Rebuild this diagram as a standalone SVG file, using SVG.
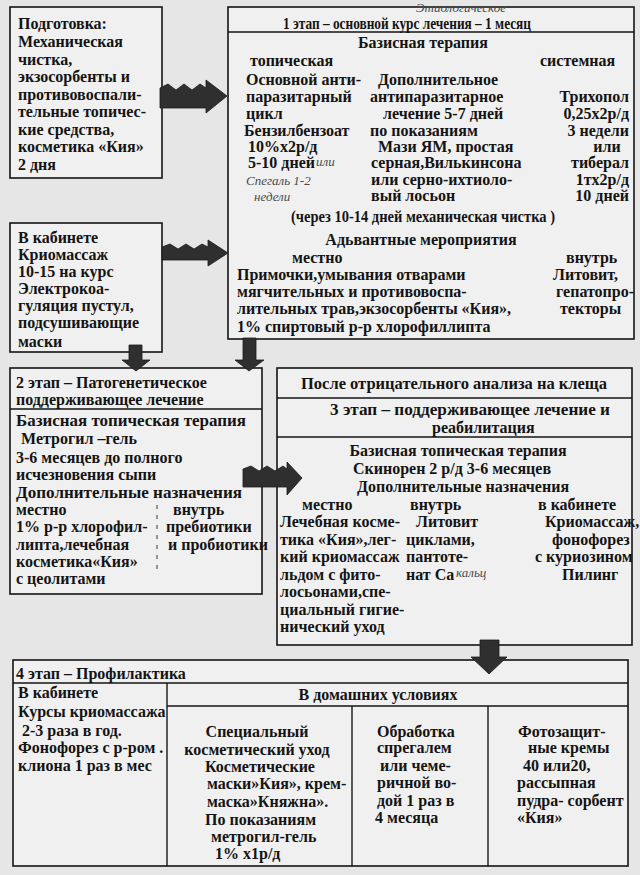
<svg xmlns="http://www.w3.org/2000/svg" width="640" height="875" viewBox="0 0 640 875">
<style>
.t{font-family:"Liberation Serif","Times New Roman",serif;font-weight:bold;font-size:16px;fill:#141414}
.m{text-anchor:middle}
.e{text-anchor:end}
.h{font-family:"Liberation Serif",serif;font-style:italic;font-size:13px;fill:#4a4a4a}
.box{fill:#f0f0f0;stroke:#151515;stroke-width:1.6}
.ln{stroke:#151515;stroke-width:1.4;fill:none}
.arr{fill:#2f2f2f;stroke:#1a1a1a;stroke-width:0.8}
</style>
<rect width="640" height="875" fill="#e6e6e6"/>

<g id="prep">
<rect class="box" x="10" y="7" width="152" height="171"/>
<text class="t" x="18" y="29">Подготовка:</text>
<text class="t" x="18" y="47">Механическая</text>
<text class="t" x="18" y="65">чистка,</text>
<text class="t" x="18" y="82">экзосорбенты и</text>
<text class="t" x="18" y="100">противовоспали-</text>
<text class="t" x="18" y="117">тельные топичес-</text>
<text class="t" x="18" y="135">кие средства,</text>
<text class="t" x="18" y="152">косметика «Кия»</text>
<text class="t" x="18" y="170">2 дня</text>
</g>

<g id="cabinet1">
<rect class="box" x="10" y="223" width="152" height="129"/>
<text class="t" x="18" y="243">В кабинете</text>
<text class="t" x="18" y="260">Криомассаж</text>
<text class="t" x="18" y="277">10-15 на курс</text>
<text class="t" x="18" y="294">Электрокоа-</text>
<text class="t" x="18" y="311">гуляция пустул,</text>
<text class="t" x="18" y="328">подсушивающие</text>
<text class="t" x="18" y="347">маски</text>
</g>

<g id="stage1">
<rect class="box" x="228" y="7" width="406" height="332"/>
<line class="ln" x1="228" y1="32" x2="634" y2="32"/>
<text class="h" x="416" y="12" font-size="10">Этиологическое</text>
<text class="t" x="283" y="29" font-size="15" textLength="248" lengthAdjust="spacingAndGlyphs">1 этап – основной курс лечения – 1 месяц</text>
<text class="t m" x="423" y="48">Базисная терапия</text>
<text class="t" x="250" y="66">топическая</text>
<text class="t" x="540" y="66">системная</text>
<text class="t" x="246" y="85">Основной анти-</text>
<text class="t" x="378" y="85">Дополнительное</text>
<text class="t" x="246" y="102">паразитарный</text>
<text class="t" x="370" y="102">антипаразитарное</text>
<text class="t e" x="629" y="102">Трихопол</text>
<text class="t" x="246" y="119">цикл</text>
<text class="t" x="383" y="119">лечение 5-7 дней</text>
<text class="t e" x="629" y="119">0,25х2р/д</text>
<text class="t" x="244" y="136">Бензилбензоат</text>
<text class="t" x="370" y="136">по показаниям</text>
<text class="t e" x="629" y="136">3 недели</text>
<text class="t" x="248" y="152">10%х2р/д</text>
<text class="t" x="378" y="152">Мази ЯМ, простая</text>
<text class="t m" x="607" y="152">или</text>
<text class="t" x="248" y="168">5-10 дней</text>
<text class="h" x="316" y="166">или</text>
<text class="t" x="371" y="168">серная,Вилькинсона</text>
<text class="t e" x="629" y="168">тиберал</text>
<text class="h" x="246" y="185" font-size="17">Спегаль 1-2</text>
<text class="t" x="371" y="185">или серно-ихтиоло-</text>
<text class="t e" x="629" y="185">1тх2р/д</text>
<text class="h" x="254" y="201" font-size="16">недели</text>
<text class="t" x="371" y="201">вый лосьон</text>
<text class="t e" x="629" y="201">10 дней</text>
<text class="t" x="291" y="222" textLength="264" lengthAdjust="spacingAndGlyphs">(через 10-14 дней механическая чистка )</text>
<text class="t m" x="421" y="245">Адьвантные мероприятия</text>
<text class="t" x="292" y="263">местно</text>
<text class="t" x="566" y="263">внутрь</text>
<text class="t" x="237" y="280">Примочки,умывания отварами</text>
<text class="t" x="553" y="280">Литовит,</text>
<text class="t" x="237" y="297">мягчительных и противовоспа-</text>
<text class="t" x="556" y="297">гепатопро-</text>
<text class="t" x="237" y="314">лительных трав,экзосорбенты «Кия»,</text>
<text class="t" x="560" y="314">текторы</text>
<text class="t" x="237" y="332">1% спиртовый р-р хлорофиллипта</text>
</g>

<g id="stage2">
<rect class="box" x="10" y="368" width="252" height="226"/>
<line class="ln" x1="10" y1="409" x2="262" y2="409"/>
<text class="t" x="16" y="388">2 этап – Патогенетическое</text>
<text class="t" x="16" y="405">поддерживающее лечение</text>
<text class="t" x="16" y="426" textLength="230" lengthAdjust="spacingAndGlyphs">Базисная топическая терапия</text>
<text class="t" x="21" y="444">Метрогил –гель</text>
<text class="t" x="16" y="463">3-6 месяцев до полного</text>
<text class="t" x="16" y="480">исчезновения сыпи</text>
<text class="t" x="16" y="498" textLength="226" lengthAdjust="spacingAndGlyphs">Дополнительные назначения</text>
<text class="t" x="16" y="515">местно</text>
<text class="t" x="173" y="515">внутрь</text>
<text class="t" x="16" y="532">1% р-р хлорофил-</text>
<text class="t" x="166" y="532">пребиотики</text>
<text class="t" x="16" y="550">липта,лечебная</text>
<text class="t" x="168" y="550">и пробиотики</text>
<text class="t" x="16" y="567">косметика«Кия»</text>
<text class="t" x="16" y="584">с цеолитами</text>
<path d="M157 505 L157 575" stroke="#555" stroke-width="1.2" stroke-dasharray="4 6" fill="none"/>
</g>

<g id="stage3">
<rect class="box" x="277" y="368" width="355" height="277"/>
<line class="ln" x1="277" y1="398" x2="632" y2="398"/>
<line class="ln" x1="277" y1="437" x2="632" y2="437"/>
<text class="t" x="301" y="389" textLength="306" lengthAdjust="spacingAndGlyphs">После отрицательного анализа на клеща</text>
<text class="t" x="330" y="415" textLength="280" lengthAdjust="spacingAndGlyphs">3 этап – поддерживающее лечение и</text>
<text class="t" x="432" y="433">реабилитация</text>
<text class="t m" x="458" y="456">Базисная топическая терапия</text>
<text class="t m" x="452" y="474">Скинорен 2 р/д 3-6 месяцев</text>
<text class="t m" x="463" y="492">Дополнительные назначения</text>
<text class="t" x="302" y="510">местно</text>
<text class="t" x="410" y="510">внутрь</text>
<text class="t" x="538" y="510">в кабинете</text>
<text class="t" x="280" y="527">Лечебная косме-</text>
<text class="t" x="416" y="527">Литовит</text>
<text class="t" x="545" y="527">Криомассаж,</text>
<text class="t" x="280" y="545">тика «Кия»,лег-</text>
<text class="t" x="406" y="545">циклами,</text>
<text class="t" x="552" y="545">фонофорез</text>
<text class="t" x="280" y="562">кий криомассаж</text>
<text class="t" x="406" y="562">пантоте-</text>
<text class="t" x="535" y="562">с куриозином</text>
<text class="t" x="280" y="580">льдом с фито-</text>
<text class="t" x="406" y="580">нат Са</text>
<text class="h" x="456" y="577" font-size="10">кальц</text>
<text class="t" x="562" y="580">Пилинг</text>
<text class="t" x="280" y="597">лосьонами,спе-</text>
<text class="t" x="280" y="615">циальный гигие-</text>
<text class="t" x="280" y="632">нический уход</text>
</g>

<g id="stage4">
<rect class="box" x="13" y="660" width="615" height="206"/>
<line class="ln" x1="13" y1="683" x2="628" y2="683"/>
<line class="ln" x1="167" y1="683" x2="167" y2="866"/>
<line class="ln" x1="167" y1="706" x2="628" y2="706"/>
<line class="ln" x1="352" y1="706" x2="352" y2="866"/>
<line class="ln" x1="488" y1="706" x2="488" y2="866"/>
<text class="t" x="16" y="679">4 этап – Профилактика</text>
<text class="t" x="18" y="698">В кабинете</text>
<text class="t" x="18" y="717">Курсы криомассажа</text>
<text class="t" x="22" y="736">2-3 раза в год.</text>
<text class="t" x="18" y="753">Фонофорез с р-ром .</text>
<text class="t" x="18" y="771">клиона 1 раз в мес</text>
<text class="t m" x="378" y="700">В домашних условиях</text>
<text class="t m" x="257" y="737">Специальный</text>
<text class="t m" x="257" y="755">косметический уход</text>
<text class="t" x="205" y="772">Косметические</text>
<text class="t" x="207" y="789">маски»Кия», крем-</text>
<text class="t" x="207" y="807">маска»Княжна».</text>
<text class="t" x="205" y="825">По показаниям</text>
<text class="t" x="211" y="842">метрогил-гель</text>
<text class="t" x="215" y="859">1% х1р/д</text>
<text class="t" x="377" y="737">Обработка</text>
<text class="t" x="377" y="753">спрегалем</text>
<text class="t" x="380" y="771">или чеме-</text>
<text class="t" x="377" y="788">ричной во-</text>
<text class="t" x="377" y="806">дой 1 раз в</text>
<text class="t" x="375" y="823">4 месяца</text>
<text class="t" x="518" y="737">Фотозащит-</text>
<text class="t" x="528" y="753">ные кремы</text>
<text class="t" x="523" y="771">40 или20,</text>
<text class="t" x="517" y="788">рассыпная</text>
<text class="t" x="517" y="806">пудра- сорбент</text>
<text class="t" x="517" y="823">«Кия»</text>
</g>

<g id="connectors">
<path class="arr" d="M160 88 L168 84 L176 90 L184 84 L192 90 L200 84 L206 88 L206 80 L227 96 L206 113 L206 108 L160 108 Z"/>
<path class="arr" d="M162 247 L170 244 L178 249 L186 244 L194 249 L202 244 L208 247 L208 240 L228 253 L208 266 L208 260 L162 260 Z"/>
<path class="arr" d="M129 345 L142 345 L142 360 L150 360 L136 371 L122 360 L129 360 Z"/>
<path class="arr" d="M243 338 L256 338 L256 360 L264 360 L249 371 L235 360 L243 360 Z"/>
<path class="arr" d="M243 469 L251 466 L259 471 L267 466 L275 471 L283 466 L287 469 L287 462 L302 478 L287 495 L287 487 L243 487 Z"/>
<path class="arr" d="M480 640 L499 640 L499 657 L507 657 L489 674 L471 657 L480 657 Z"/>
</g>
</svg>
